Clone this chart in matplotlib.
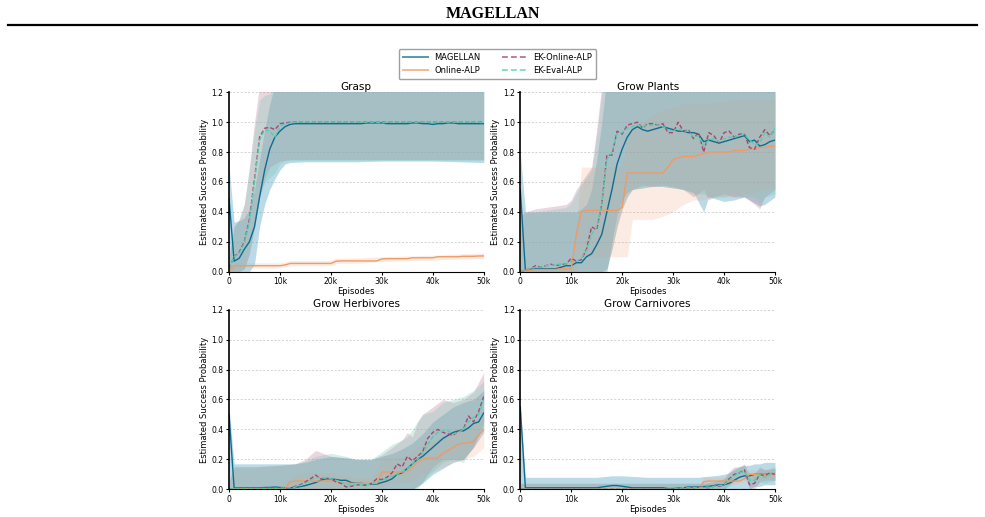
import matplotlib
matplotlib.use("Agg")
import matplotlib.pyplot as plt
from matplotlib.lines import Line2D
from matplotlib.ticker import FuncFormatter

# episodes in thousands, one point per 1k
episodes = list(range(0, 51))

# ---------------- Grasp ----------------
grasp_magellan = [0.49, 0.07, 0.09, 0.15, 0.2, 0.3, 0.5, 0.68, 0.82, 0.9, 0.94,
                  0.97, 0.985, 0.99, 0.99, 0.99, 0.99, 0.99, 0.99, 0.99, 0.99,
                  0.99, 0.99, 0.99, 0.99, 0.99, 0.99, 0.995, 0.995, 0.995, 0.995,
                  0.99, 0.99, 0.99, 0.99, 0.99, 0.995, 0.995, 0.99, 0.99, 0.985,
                  0.99, 0.99, 0.995, 0.995, 0.99, 0.99, 0.99, 0.99, 0.99, 0.99]
grasp_online = [0.0, 0.04, 0.04, 0.04, 0.04, 0.04, 0.04, 0.04, 0.04, 0.04, 0.04,
                0.045, 0.055, 0.055, 0.055, 0.055, 0.055, 0.055, 0.055, 0.055, 0.055,
                0.07, 0.072, 0.072, 0.072, 0.072, 0.072, 0.072, 0.072, 0.072, 0.085,
                0.087, 0.087, 0.087, 0.087, 0.087, 0.093, 0.093, 0.093, 0.093, 0.093,
                0.1, 0.1, 0.1, 0.1, 0.1, 0.103, 0.103, 0.103, 0.105, 0.105]
grasp_ek_online = [0.02, 0.1, 0.13, 0.2, 0.35, 0.62, 0.9, 0.96, 0.965, 0.95, 0.99,
                   0.995, 1.0, 1.0, 1.0, 1.0, 1.0, 1.0, 1.0, 1.0, 1.0,
                   1.0, 1.0, 1.0, 1.0, 1.0, 1.0, 1.0, 1.0, 1.0, 1.0,
                   1.0, 1.0, 1.0, 1.0, 1.0, 1.0, 1.0, 1.0, 1.0, 1.0,
                   1.0, 1.0, 1.0, 1.0, 1.0, 1.0, 1.0, 1.0, 1.0, 1.0]
grasp_ek_eval = [0.02, 0.1, 0.12, 0.19, 0.33, 0.6, 0.88, 0.95, 0.94, 0.9, 0.97,
                 0.99, 0.995, 1.0, 1.0, 1.0, 1.0, 1.0, 1.0, 1.0, 1.0,
                 1.0, 1.0, 1.0, 1.0, 1.0, 1.0, 1.0, 1.0, 1.0, 0.995,
                 1.0, 1.0, 1.0, 1.0, 1.0, 1.0, 1.0, 1.0, 1.0, 1.0,
                 1.0, 1.0, 1.0, 1.0, 1.0, 1.0, 1.0, 1.0, 1.0, 0.995]

grasp_band_x = [0, 1, 2, 3, 4, 5, 6, 7, 8, 9, 10, 11, 12, 15, 20, 21, 25, 30, 35, 40, 45, 50]
grasp_magellan_lo = [0, 0, 0, 0, 0, 0.05, 0.3, 0.45, 0.55, 0.62, 0.68, 0.72, 0.73, 0.735,
                     0.735, 0.735, 0.735, 0.74, 0.74, 0.74, 0.735, 0.73]
grasp_magellan_hi = [0.71, 0.33, 0.34, 0.36, 0.42, 0.55, 0.75, 0.95, 1.12, 1.25, 1.3, 1.3,
                     1.3, 1.3, 1.3, 1.3, 1.3, 1.3, 1.3, 1.3, 1.3, 1.3]
grasp_online_lo = [0, 0.025, 0.025, 0.025, 0.025, 0.025, 0.025, 0.025, 0.025, 0.025, 0.025,
                   0.03, 0.04, 0.04, 0.04, 0.055, 0.057, 0.068, 0.073, 0.078, 0.084, 0.088]
grasp_online_hi = [0.02, 0.06, 0.06, 0.06, 0.06, 0.06, 0.06, 0.06, 0.06, 0.06, 0.06,
                   0.065, 0.075, 0.075, 0.075, 0.09, 0.092, 0.1, 0.105, 0.11, 0.118, 0.125]
grasp_ek_online_lo = [0, 0, 0, 0.02, 0.12, 0.3, 0.5, 0.62, 0.7, 0.72, 0.74, 0.745, 0.75,
                      0.75, 0.75, 0.75, 0.75, 0.75, 0.75, 0.75, 0.75, 0.75]
grasp_ek_online_hi = [0.1, 0.3, 0.35, 0.45, 0.7, 1.0, 1.25, 1.3, 1.3, 1.3, 1.3, 1.3, 1.3,
                      1.3, 1.3, 1.3, 1.3, 1.3, 1.3, 1.3, 1.3, 1.3]
grasp_ek_eval_lo = [0, 0, 0, 0.02, 0.12, 0.3, 0.5, 0.6, 0.63, 0.66, 0.72, 0.74, 0.745,
                    0.745, 0.745, 0.745, 0.745, 0.745, 0.745, 0.745, 0.745, 0.745]
grasp_ek_eval_hi = [0.1, 0.3, 0.35, 0.45, 0.68, 0.95, 1.15, 1.18, 1.19, 1.25, 1.3, 1.3, 1.3,
                    1.3, 1.3, 1.3, 1.3, 1.3, 1.3, 1.3, 1.3, 1.3]

# ---------------- Grow Plants ----------------
plants_magellan = [0.55, 0.01, 0.015, 0.02, 0.02, 0.02, 0.02, 0.02, 0.03, 0.04, 0.04,
                   0.06, 0.06, 0.1, 0.12, 0.18, 0.25, 0.4, 0.55, 0.72, 0.82,
                   0.9, 0.95, 0.97, 0.95, 0.94, 0.95, 0.96, 0.97, 0.96, 0.95,
                   0.94, 0.94, 0.93, 0.93, 0.92, 0.87, 0.88, 0.87, 0.86, 0.87,
                   0.88, 0.89, 0.9, 0.91, 0.87, 0.88, 0.84, 0.85, 0.87, 0.88]
plants_online = [0.0, 0.01, 0.01, 0.015, 0.015, 0.015, 0.015, 0.015, 0.02, 0.02, 0.02,
                 0.25, 0.4, 0.41, 0.41, 0.41, 0.41, 0.41, 0.41, 0.41, 0.43,
                 0.66, 0.66, 0.66, 0.66, 0.66, 0.66, 0.66, 0.66, 0.7, 0.75,
                 0.76, 0.77, 0.77, 0.77, 0.78, 0.79, 0.8, 0.8, 0.8, 0.8,
                 0.8, 0.81, 0.81, 0.81, 0.82, 0.82, 0.83, 0.83, 0.84, 0.84]
plants_ek_online = [0, 0.01, 0.02, 0.04, 0.03, 0.04, 0.05, 0.04, 0.05, 0.05, 0.09,
                    0.07, 0.08, 0.15, 0.3, 0.28, 0.45, 0.78, 0.78, 0.94, 0.92,
                    0.98, 0.99, 1.0, 0.96, 0.99, 0.99, 0.98, 0.99, 0.93, 0.93,
                    1.0, 0.94, 0.95, 0.89, 0.93, 0.8, 0.93, 0.91, 0.86, 0.93,
                    0.94, 0.9, 0.92, 0.92, 0.83, 0.82, 0.9, 0.95, 0.91, 0.95]
plants_ek_eval = [0, 0.01, 0.02, 0.03, 0.03, 0.04, 0.04, 0.05, 0.05, 0.05, 0.07,
                  0.07, 0.09, 0.14, 0.25, 0.3, 0.45, 0.75, 0.8, 0.92, 0.93,
                  0.96, 0.97, 0.98, 0.97, 0.98, 0.98, 0.98, 0.97, 0.95, 0.94,
                  0.96, 0.94, 0.94, 0.9, 0.91, 0.84, 0.88, 0.89, 0.87, 0.89,
                  0.9, 0.9, 0.91, 0.92, 0.88, 0.85, 0.86, 0.93, 0.9, 0.96]

plants_band_x = [0, 1, 3, 5, 7, 9, 10, 11, 12, 13, 14, 15, 16, 17, 18, 19, 20, 21, 22,
                 24, 26, 28, 30, 32, 34, 36, 37, 38, 40, 42, 44, 46, 47, 48, 50]
plants_magellan_lo = [0, 0, 0, 0, 0, 0, 0, 0, 0, 0, 0, 0, 0, 0,
                      0.2, 0.38, 0.48, 0.53, 0.55, 0.56, 0.57, 0.57, 0.56, 0.55, 0.53,
                      0.4, 0.5, 0.49, 0.47, 0.48, 0.5, 0.46, 0.44, 0.45, 0.5]
plants_magellan_hi = [0.8, 0.4, 0.4, 0.4, 0.4, 0.4, 0.4, 0.4, 0.42, 0.45, 0.55, 0.75, 1.0, 1.3,
                      1.3, 1.3, 1.3, 1.3, 1.3, 1.3, 1.3, 1.3, 1.3, 1.3, 1.3,
                      1.3, 1.3, 1.3, 1.3, 1.3, 1.3, 1.3, 1.3, 1.3, 1.3]
plants_online_lo = [0, 0, 0, 0, 0, 0, 0, 0,
                    0.1, 0.1, 0.1, 0.1, 0.1, 0.1, 0.1, 0.1, 0.1, 0.1, 0.35,
                    0.35, 0.35, 0.37, 0.4, 0.45, 0.48, 0.48, 0.5, 0.5, 0.5,
                    0.5, 0.52, 0.53, 0.55, 0.55, 0.56]
plants_online_hi = [0.02, 0.03, 0.03, 0.03, 0.03, 0.03, 0.04, 0.3,
                    0.7, 0.7, 0.7, 0.7, 0.7, 0.7, 0.7, 0.7, 0.7, 0.9, 1.0,
                    1.0, 1.05, 1.08, 1.1, 1.12, 1.13, 1.12, 1.12, 1.13, 1.14,
                    1.15, 1.15, 1.15, 1.15, 1.15, 1.15]
plants_ek_online_lo = [0, 0, 0, 0, 0, 0, 0, 0, 0, 0, 0, 0, 0,
                       0.02, 0.15, 0.3, 0.42, 0.5, 0.55, 0.58, 0.57, 0.58, 0.57, 0.55, 0.5,
                       0.55, 0.48, 0.5, 0.52, 0.5, 0.5, 0.45, 0.42, 0.5, 0.55]
plants_ek_online_hi = [0.38, 0.4, 0.42, 0.43, 0.44, 0.45, 0.48, 0.55, 0.6, 0.65, 0.7, 0.95, 1.25,
                       1.3, 1.3, 1.3, 1.3, 1.3, 1.3, 1.3, 1.3, 1.3, 1.3, 1.3, 1.3,
                       1.3, 1.3, 1.3, 1.3, 1.3, 1.3, 1.3, 1.3, 1.3, 1.3]
plants_ek_eval_lo = [0, 0, 0, 0, 0, 0, 0, 0, 0, 0, 0, 0, 0,
                     0.02, 0.15, 0.3, 0.42, 0.5, 0.55, 0.56, 0.58, 0.57, 0.56, 0.55, 0.52,
                     0.52, 0.5, 0.5, 0.5, 0.52, 0.5, 0.5, 0.46, 0.5, 0.52]
plants_ek_eval_hi = [0.36, 0.39, 0.4, 0.41, 0.42, 0.43, 0.46, 0.53, 0.58, 0.63, 0.68, 0.92, 1.2,
                     1.3, 1.3, 1.3, 1.3, 1.3, 1.3, 1.3, 1.3, 1.3, 1.3, 1.3, 1.3,
                     1.3, 1.3, 1.3, 1.3, 1.3, 1.3, 1.3, 1.3, 1.3, 1.3]

# ---------------- Grow Herbivores ----------------
herb_magellan = [0.5, 0.01, 0.01, 0.01, 0.01, 0.01, 0.01, 0.012, 0.012, 0.015, 0.012,
                 0.01, 0.01, 0.012, 0.018, 0.025, 0.035, 0.045, 0.06, 0.07, 0.07,
                 0.065, 0.06, 0.06, 0.045, 0.04, 0.04, 0.035, 0.035, 0.035, 0.045,
                 0.055, 0.07, 0.1, 0.11, 0.14, 0.17, 0.2, 0.22, 0.25, 0.28,
                 0.31, 0.34, 0.36, 0.38, 0.39, 0.39, 0.41, 0.44, 0.45, 0.51]
herb_online = [0.0, 0.005, 0.005, 0.005, 0.005, 0.005, 0.005, 0.005, 0.005, 0.005, 0.005,
               0.005, 0.05, 0.055, 0.055, 0.055, 0.055, 0.055, 0.055, 0.055, 0.055,
               0.05, 0.045, 0.04, 0.04, 0.04, 0.04, 0.04, 0.04, 0.04, 0.115,
               0.115, 0.115, 0.115, 0.115, 0.12, 0.15, 0.18, 0.2, 0.21, 0.21,
               0.21, 0.24, 0.26, 0.28, 0.3, 0.31, 0.31, 0.32, 0.36, 0.4]
herb_ek_online = [0, 0.005, 0.005, 0.005, 0.005, 0.005, 0.005, 0.005, 0.005, 0.005, 0.005,
                  0.01, 0.01, 0.02, 0.03, 0.05, 0.07, 0.095, 0.07, 0.075, 0.07,
                  0.05, 0.04, 0.015, 0.02, 0.03, 0.03, 0.025, 0.04, 0.07, 0.065,
                  0.08, 0.11, 0.17, 0.15, 0.22, 0.19, 0.22, 0.25, 0.34, 0.38,
                  0.4, 0.38, 0.37, 0.36, 0.39, 0.4, 0.49, 0.45, 0.52, 0.62]
herb_ek_eval = [0, 0.005, 0.005, 0.005, 0.005, 0.005, 0.005, 0.005, 0.005, 0.005, 0.005,
                0.01, 0.01, 0.015, 0.025, 0.04, 0.06, 0.08, 0.075, 0.075, 0.07,
                0.06, 0.05, 0.03, 0.03, 0.03, 0.03, 0.03, 0.035, 0.05, 0.06,
                0.07, 0.09, 0.1, 0.12, 0.14, 0.17, 0.2, 0.24, 0.3, 0.35,
                0.38, 0.39, 0.39, 0.37, 0.38, 0.4, 0.45, 0.48, 0.5, 0.6]

herb_band_x = [0, 1, 5, 10, 13, 15, 17, 20, 23, 25, 28, 30, 32, 34, 35, 36, 37, 38,
               40, 42, 44, 46, 48, 50]
herb_magellan_lo = [0, 0, 0, 0, 0, 0, 0, 0, 0, 0, 0, 0, 0, 0, 0, 0,
                    0.02, 0.04, 0.1, 0.14, 0.18, 0.2, 0.28, 0.38]
herb_magellan_hi = [0.55, 0.17, 0.17, 0.17, 0.17, 0.18, 0.2, 0.22, 0.21, 0.2, 0.2, 0.22,
                    0.24, 0.27, 0.29, 0.31, 0.34, 0.37, 0.45, 0.5, 0.55, 0.58, 0.6, 0.66]
herb_online_lo = [0, 0, 0, 0, 0, 0, 0, 0, 0, 0, 0, 0.02, 0.04, 0.05, 0.05, 0.06,
                  0.08, 0.1, 0.12, 0.15, 0.18, 0.2, 0.22, 0.28]
herb_online_hi = [0.02, 0.02, 0.02, 0.02, 0.1, 0.11, 0.11, 0.11, 0.09, 0.08, 0.08, 0.2,
                  0.21, 0.22, 0.22, 0.25, 0.28, 0.3, 0.32, 0.35, 0.38, 0.42, 0.45, 0.5]
herb_ek_online_lo = [0, 0, 0, 0, 0, 0, 0, 0, 0, 0, 0, 0, 0, 0, 0,
                     0, 0.02, 0.05, 0.15, 0.2, 0.2, 0.2, 0.28, 0.45]
herb_ek_online_hi = [0.05, 0.15, 0.15, 0.16, 0.17, 0.2, 0.26, 0.22, 0.21, 0.2, 0.2, 0.23,
                     0.28, 0.33, 0.38, 0.35, 0.45, 0.5, 0.55, 0.6, 0.58, 0.6, 0.65, 0.78]
herb_ek_eval_lo = [0, 0, 0, 0, 0, 0, 0, 0, 0, 0, 0, 0, 0, 0, 0, 0, 0,
                   0.05, 0.12, 0.18, 0.2, 0.18, 0.3, 0.42]
herb_ek_eval_hi = [0.05, 0.15, 0.15, 0.16, 0.17, 0.19, 0.22, 0.24, 0.22, 0.2, 0.2, 0.25,
                   0.3, 0.33, 0.35, 0.4, 0.45, 0.5, 0.52, 0.58, 0.6, 0.62, 0.66, 0.72]

# ---------------- Grow Carnivores ----------------
carn_magellan = [0.55, 0.01, 0.01, 0.01, 0.01, 0.01, 0.01, 0.01, 0.01, 0.01, 0.01,
                 0.01, 0.01, 0.01, 0.01, 0.01, 0.015, 0.02, 0.025, 0.025, 0.02,
                 0.015, 0.01, 0.01, 0.01, 0.01, 0.01, 0.01, 0.01, 0.005, 0.005,
                 0.008, 0.01, 0.015, 0.015, 0.015, 0.018, 0.02, 0.025, 0.03, 0.03,
                 0.04, 0.06, 0.08, 0.09, 0.09, 0.1, 0.1, 0.1, 0.1, 0.1]
carn_online = [0, 0, 0, 0, 0, 0, 0, 0, 0, 0, 0,
               0, 0, 0, 0, 0, 0, 0, 0, 0, 0,
               0, 0, 0, 0, 0, 0, 0, 0, 0, 0,
               0, 0, 0, 0, 0, 0.05, 0.055, 0.055, 0.055, 0.055,
               0.055, 0.055, 0.055, 0.07, 0.1, 0.1, 0.1, 0.1, 0.1, 0.1]
carn_ek_online = [0, 0, 0, 0, 0, 0, 0, 0, 0, 0, 0,
                  0, 0, 0, 0, 0, 0, 0, 0, 0, 0,
                  0, 0, 0, 0, 0, 0, 0, 0, 0, 0,
                  0.005, 0.01, 0.01, 0.01, 0.015, 0.015, 0.01, 0.02, 0.02, 0.03,
                  0.07, 0.1, 0.11, 0.13, 0.03, 0.04, 0.1, 0.09, 0.11, 0.1]
carn_ek_eval = [0, 0, 0, 0, 0, 0, 0, 0, 0, 0, 0,
                0, 0, 0, 0, 0, 0, 0, 0, 0, 0,
                0, 0, 0, 0, 0, 0, 0, 0, 0, 0,
                0.005, 0.01, 0.01, 0.01, 0.01, 0.015, 0.015, 0.02, 0.025, 0.03,
                0.06, 0.09, 0.11, 0.12, 0.06, 0.06, 0.1, 0.08, 0.1, 0.11]

carn_band_x = [0, 1, 5, 10, 15, 18, 20, 25, 30, 35, 36, 38, 40, 41, 42, 43, 44, 45,
               46, 47, 48, 50]
carn_magellan_lo = [0, 0, 0, 0, 0, 0, 0, 0, 0, 0, 0, 0, 0, 0, 0, 0, 0, 0,
                    0.02, 0.02, 0.03, 0.03]
carn_magellan_hi = [0.55, 0.08, 0.08, 0.08, 0.08, 0.09, 0.09, 0.08, 0.08, 0.08, 0.085,
                    0.09, 0.1, 0.11, 0.13, 0.15, 0.16, 0.16, 0.17, 0.17, 0.18, 0.18]
carn_online_lo = [0, 0, 0, 0, 0, 0, 0, 0, 0, 0, 0.02, 0.03, 0.03, 0.03, 0.03, 0.04,
                  0.05, 0.07, 0.07, 0.07, 0.07, 0.07]
carn_online_hi = [0.01, 0.01, 0.01, 0.01, 0.01, 0.01, 0.01, 0.01, 0.01, 0.01, 0.08, 0.08,
                  0.08, 0.08, 0.08, 0.08, 0.09, 0.13, 0.13, 0.13, 0.13, 0.13]
carn_ek_online_lo = [0, 0, 0, 0, 0, 0, 0, 0, 0, 0, 0, 0,
                     0, 0.03, 0.06, 0.08, 0.1, 0, 0, 0.05, 0.06, 0.06]
carn_ek_online_hi = [0.04, 0.04, 0.04, 0.04, 0.04, 0.04, 0.04, 0.04, 0.04, 0.04, 0.04,
                     0.05, 0.07, 0.12, 0.15, 0.15, 0.17, 0.08, 0.1, 0.15, 0.13, 0.14]
carn_ek_eval_lo = [0, 0, 0, 0, 0, 0, 0, 0, 0, 0, 0, 0,
                   0, 0.02, 0.05, 0.07, 0.08, 0.02, 0.02, 0.05, 0.04, 0.06]
carn_ek_eval_hi = [0.04, 0.04, 0.04, 0.04, 0.04, 0.04, 0.04, 0.04, 0.04, 0.04, 0.04,
                   0.05, 0.07, 0.11, 0.14, 0.15, 0.16, 0.11, 0.11, 0.14, 0.13, 0.15]

titles = ['Grasp', 'Grow Plants', 'Grow Herbivores', 'Grow Carnivores']
labels = ['MAGELLAN', 'Online-ALP', 'EK-Online-ALP', 'EK-Eval-ALP']

line_colors = ['#0f6c90', '#f09a66', '#a8466f', '#52cfae']
fill_colors = ['#64afc8', '#f4a582', '#be7896', '#78c8b4']
fill_alpha = [0.45, 0.22, 0.3, 0.3]
styles = ['-', '-', (0, (3, 1.6)), (0, (3, 1.6))]

panels = [
    (grasp_band_x,
     [grasp_magellan, grasp_online, grasp_ek_online, grasp_ek_eval],
     [(grasp_magellan_lo, grasp_magellan_hi), (grasp_online_lo, grasp_online_hi),
      (grasp_ek_online_lo, grasp_ek_online_hi), (grasp_ek_eval_lo, grasp_ek_eval_hi)]),
    (plants_band_x,
     [plants_magellan, plants_online, plants_ek_online, plants_ek_eval],
     [(plants_magellan_lo, plants_magellan_hi), (plants_online_lo, plants_online_hi),
      (plants_ek_online_lo, plants_ek_online_hi), (plants_ek_eval_lo, plants_ek_eval_hi)]),
    (herb_band_x,
     [herb_magellan, herb_online, herb_ek_online, herb_ek_eval],
     [(herb_magellan_lo, herb_magellan_hi), (herb_online_lo, herb_online_hi),
      (herb_ek_online_lo, herb_ek_online_hi), (herb_ek_eval_lo, herb_ek_eval_hi)]),
    (carn_band_x,
     [carn_magellan, carn_online, carn_ek_online, carn_ek_eval],
     [(carn_magellan_lo, carn_magellan_hi), (carn_online_lo, carn_online_hi),
      (carn_ek_online_lo, carn_ek_online_hi), (carn_ek_eval_lo, carn_ek_eval_hi)]),
]

fig = plt.figure(figsize=(9.85, 5.17), dpi=100)

# page header
fig.text(0.5, 0.973, 'MAGELLAN', ha='center', va='center', family='Liberation Serif',
         fontweight='bold', fontsize=11.5)
fig.add_artist(Line2D([8 / 985, 977 / 985], [1 - 25 / 517, 1 - 25 / 517],
                      color='black', lw=1.6))

positions = [
    [0.2325, 0.4745, 0.2586, 0.347],
    [0.5282, 0.4745, 0.2586, 0.347],
    [0.2325, 0.0536, 0.2586, 0.3474],
    [0.5282, 0.0536, 0.2586, 0.3474],
]

kfmt = FuncFormatter(lambda v, p: '0' if v == 0 else f'{int(v)}k')

for pos, title, (bx, means, bands) in zip(positions, titles, panels):
    ax = fig.add_axes(pos)
    for i in range(4):
        lo, hi = bands[i]
        ax.fill_between(bx, lo, hi, color=fill_colors[i], alpha=fill_alpha[i], lw=0)
    for i in range(4):
        ax.plot(episodes, means[i], color=line_colors[i], linestyle=styles[i], lw=1.0)
    ax.set_xlim(0, 50)
    ax.set_ylim(0, 1.2)
    ax.set_xticks([0, 10, 20, 30, 40, 50])
    ax.set_yticks([0.0, 0.2, 0.4, 0.6, 0.8, 1.0, 1.2])
    ax.xaxis.set_major_formatter(kfmt)
    ax.yaxis.set_major_formatter(FuncFormatter(lambda v, p: f'{v:.1f}'))
    ax.grid(axis='y', linestyle=(0, (2.5, 2)), color='#cccccc', lw=0.6)
    ax.set_axisbelow(True)
    for s in ['top', 'right']:
        ax.spines[s].set_visible(False)
    ax.spines['left'].set_linewidth(1.2)
    ax.spines['bottom'].set_linewidth(0.8)
    ax.tick_params(labelsize=5.5, length=2.5, width=0.8, pad=1.5)
    ax.set_title(title, fontsize=7.5, pad=2)
    ax.set_xlabel('Episodes', fontsize=6, labelpad=0.5)
    ax.set_ylabel('Estimated Success Probability', fontsize=6, labelpad=2)

handles = [Line2D([], [], color=line_colors[i], linestyle=styles[i], lw=1.4, alpha=0.7)
           for i in range(4)]
fig.legend(handles, labels, loc='center', bbox_to_anchor=(0.505, 0.876), ncol=2,
           fontsize=6, frameon=True, edgecolor='#888888', fancybox=True,
           columnspacing=2.5, handlelength=3, borderpad=0.5, labelspacing=0.5)

fig.savefig('out.png', dpi=100)
